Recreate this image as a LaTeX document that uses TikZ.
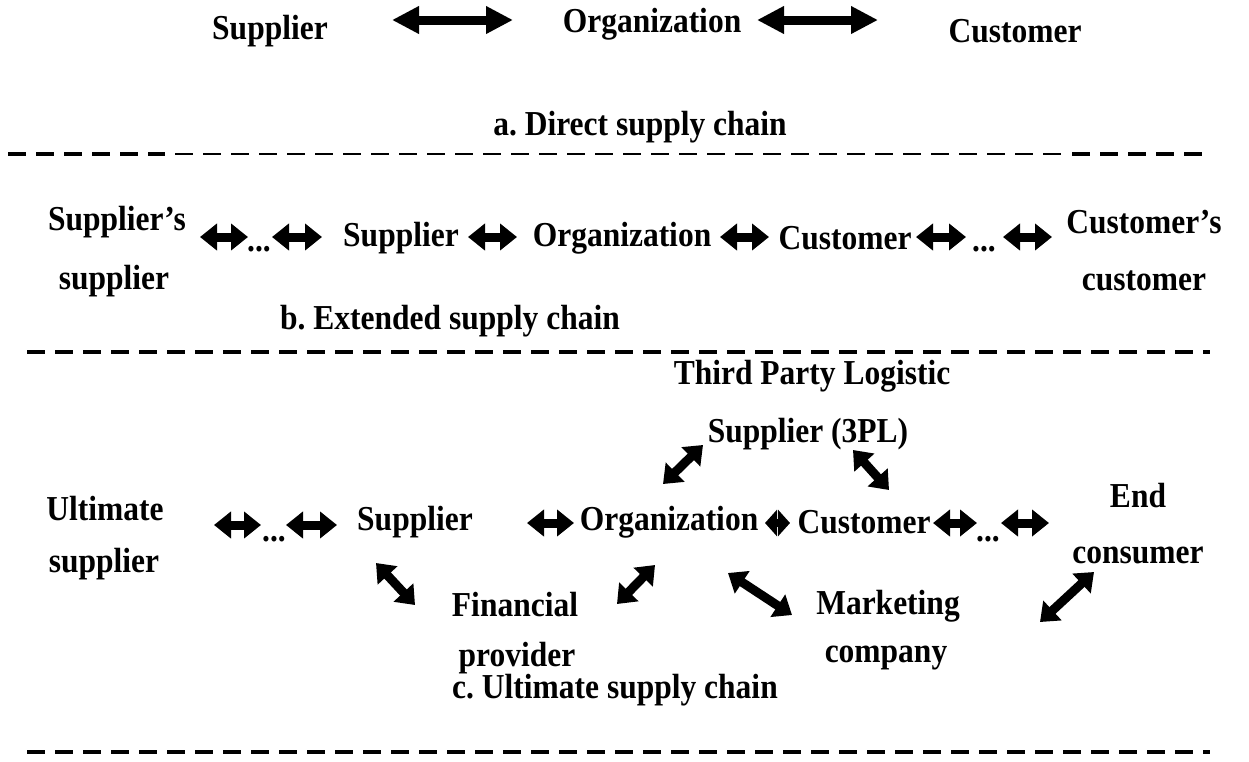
\documentclass[tikz,border=0pt]{standalone}
\usepackage{fontspec}
\setmainfont{Liberation Serif}[FakeStretch=0.9]
\usetikzlibrary{arrows.meta}
\begin{document}
\frenchspacing
\begin{tikzpicture}[x=1pt,y=-1pt,
  lbl/.style={font=\fontsize{35}{40}\selectfont\bfseries, inner sep=0pt, anchor=center},
  bigarrow/.style={line width=9pt, {Triangle[width=26pt,length=27pt]}-{Triangle[width=26pt,length=27pt]}},
  smlarrow/.style={line width=9pt, {Triangle[width=26pt,length=17pt]}-{Triangle[width=26pt,length=17pt]}},
  diagarrow/.style={line width=9pt, {Triangle[width=26pt,length=17pt]}-{Triangle[width=26pt,length=17pt]}},
  tinyarrow/.style={line width=8pt, {Triangle[width=26pt,length=12pt]}-{Triangle[width=26pt,length=12pt]}},
  thickdash/.style={line width=4.5pt, dash pattern=on 18pt off 10pt},
  thindash/.style={line width=2.5pt, dash pattern=on 18pt off 10pt}]
\useasboundingbox (0,0) rectangle (1249,761);

% ---------- a. direct supply chain ----------
\node[lbl] (aSup) at (270,31) {Supplier};
\node[lbl] (aOrg) at (652,24) {Organization};
\node[lbl] (aCus) at (1015,31) {Customer};
\coordinate (a1l) at (392,20); \coordinate (a1r) at (513,20);
\coordinate (a2l) at (757,20); \coordinate (a2r) at (878,20);
\draw[bigarrow] (a1l) -- (a1r);
\draw[bigarrow] (a2l) -- (a2r);
\node[lbl] (aCap) at (640,127) {a. Direct supply chain};

\coordinate (d1a) at (8,154); \coordinate (d1b) at (165,154);
\coordinate (d1c) at (175,154); \coordinate (d1d) at (1062,154);
\coordinate (d1e) at (1072,154); \coordinate (d1f) at (1205,154);
\draw[thickdash] (d1a) -- (d1b);
\draw[thindash] (d1c) -- (d1d);
\draw[thickdash] (d1e) -- (d1f);

% ---------- b. extended supply chain ----------
\node[lbl] (bSS1) at (117,222) {Supplier’s};
\node[lbl] (bSS2) at (114,281) {supplier};
\node[lbl] (bDots1) at (259,249) {...};
\node[lbl] (bSup) at (401,238) {Supplier};
\node[lbl] (bOrg) at (622,238) {Organization};
\node[lbl] (bCus) at (845,238) {Customer};
\node[lbl] (bDots2) at (984,249) {...};
\node[lbl] (bCC1) at (1144,222) {Customer’s};
\node[lbl] (bCC2) at (1144,281) {customer};
\coordinate (b1l) at (200,237); \coordinate (b1r) at (248,237);
\coordinate (b2l) at (272,237); \coordinate (b2r) at (322,237);
\coordinate (b3l) at (468,237); \coordinate (b3r) at (517,237);
\coordinate (b4l) at (720,237); \coordinate (b4r) at (769,237);
\coordinate (b5l) at (916,237); \coordinate (b5r) at (966,237);
\coordinate (b6l) at (1003,237); \coordinate (b6r) at (1052,237);
\foreach \i in {1,...,6} {\draw[smlarrow] (b\i l) -- (b\i r);}
\node[lbl] (bCap) at (450,321) {b. Extended supply chain};

\coordinate (d2a) at (27,352); \coordinate (d2b) at (1210,352);
\draw[thickdash] (d2a) -- (d2b);

% ---------- c. ultimate supply chain ----------
\node[lbl] (c3PL1) at (812,376) {Third Party Logistic};
\node[lbl] (c3PL2) at (808,434) {Supplier (3PL)};
\node[lbl] (cUS1) at (105,509) {Ultimate};
\node[lbl] (cUS2) at (104,564) {supplier};
\node[lbl] (cDots1) at (274,539) {...};
\node[lbl] (cSup) at (415,522) {Supplier};
\node[lbl] (cOrg) at (669,522) {Organization};
\node[lbl] (cCus) at (864,522) {Customer};
\node[lbl] (cDots2) at (988,539) {...};
\node[lbl] (cEC1) at (1138,496) {End};
\node[lbl] (cEC2) at (1138,555) {consumer};
\node[lbl] (cFin1) at (515,605) {Financial};
\node[lbl] (cFin2) at (517,658) {provider};
\node[lbl] (cMkt1) at (888,606) {Marketing};
\node[lbl] (cMkt2) at (886,658) {company};
\node[lbl] (cCap) at (615,690) {c. Ultimate supply chain};

\coordinate (c1l) at (214,525); \coordinate (c1r) at (261,525);
\coordinate (c2l) at (286,525); \coordinate (c2r) at (337,525);
\coordinate (c3l) at (527,523); \coordinate (c3r) at (574,523);
\coordinate (c5l) at (933,523); \coordinate (c5r) at (977,523);
\coordinate (c6l) at (1001,523); \coordinate (c6r) at (1049,523);
\foreach \i in {1,2,3,5,6} {\draw[smlarrow] (c\i l) -- (c\i r);}
\coordinate (c4l) at (765,523); \coordinate (c4r) at (790,523);
\draw[tinyarrow] (c4l) -- (c4r);

\coordinate (eOPa) at (663,484); \coordinate (eOPb) at (703,445);
\coordinate (ePCa) at (853,450); \coordinate (ePCb) at (889,490);
\coordinate (eSFa) at (376,563); \coordinate (eSFb) at (415,605);
\coordinate (eOFa) at (655,565); \coordinate (eOFb) at (617,604);
\coordinate (eOMa) at (728,573); \coordinate (eOMb) at (792,615);
\coordinate (eECa) at (1094,572); \coordinate (eECb) at (1040,622);
\foreach \e in {OP,PC,SF,OF,OM,EC} {\draw[diagarrow] (e\e a) -- (e\e b);}

\coordinate (d3a) at (27,752); \coordinate (d3b) at (1210,752);
\draw[thickdash] (d3a) -- (d3b);
\end{tikzpicture}
\end{document}
